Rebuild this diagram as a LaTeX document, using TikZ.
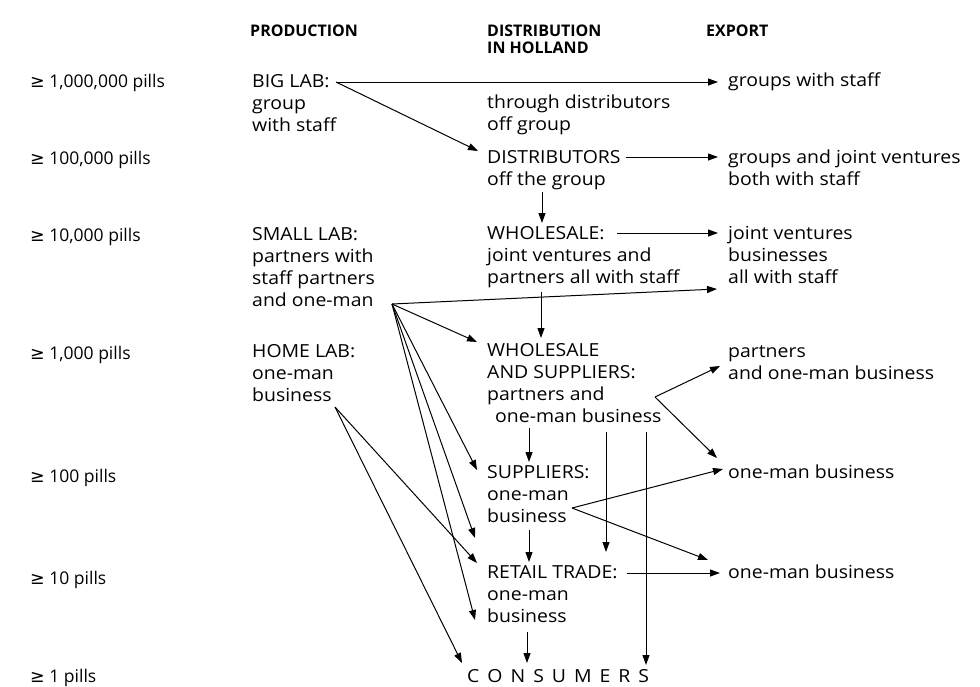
\documentclass[tikz,border=0pt]{standalone}
\usepackage{fontspec}
\setmainfont{Open Sans}[FakeStretch=1.08]
\newfontfamily\lblfont{Open Sans}
\newfontfamily\symf{DejaVu Sans}
\usetikzlibrary{arrows.meta}
\begin{document}
\begin{tikzpicture}[x=1pt,y=-1pt,
  txt/.style={anchor=base west, inner sep=0pt, align=left, font=\fontsize{18}{22}\selectfont},
  lvl/.style={anchor=base west, inner sep=0pt, font=\lblfont\fontsize{17.5}{22}\selectfont},
  hdr/.style={anchor=base west, inner sep=0pt, align=left, font=\lblfont\bfseries\fontsize{16}{17}\selectfont},
  arr/.style={-{Triangle[length=10pt,width=7pt]}, line width=1pt}]
\useasboundingbox[fill=white] (0,0) rectangle (980,686);
% headers (anchor = baseline of last line)
\node[hdr] (h1) at (250,36) {PRODUCTION};
\node[hdr] (h2) at (487,53) {DISTRIBUTION\\IN HOLLAND};
\node[hdr] (h3) at (706,36) {EXPORT};
% levels
\node[lvl] (l1) at (30,87) {{\symf ≥} 1,000,000 pills};
\node[lvl] (l2) at (30,164) {{\symf ≥} 100,000 pills};
\node[lvl] (l3) at (30,241) {{\symf ≥} 10,000 pills};
\node[lvl] (l4) at (30,359) {{\symf ≥} 1,000 pills};
\node[lvl] (l5) at (30,482) {{\symf ≥} 100 pills};
\node[lvl] (l6) at (30,584) {{\symf ≥} 10 pills};
\node[lvl] (l7) at (30,682) {{\symf ≥} 1 pills};
% production
\node[txt] (big) at (252,131) {BIG LAB:\\group\\with staff};
\node[txt] (small) at (252,306) {SMALL LAB:\\partners with\\staff partners\\and one-man};
\node[txt] (home) at (252,401) {HOME LAB:\\one-man\\business};
% distribution
\node[txt] (thru) at (487,130) {through distributors\\off group};
\node[txt] (dist) at (487,185) {DISTRIBUTORS\\off the group};
\node[txt] (whole) at (487,283) {WHOLESALE:\\joint ventures and\\partners all with staff};
\node[txt] (wss) at (487,422) {WHOLESALE\\AND SUPPLIERS:\\partners and\\\hspace{8pt}one-man business};
\node[txt] (supp) at (487,522) {SUPPLIERS:\\one-man\\business};
\node[txt] (retail) at (487,622) {RETAIL TRADE:\\one-man\\business};
\node[txt] (cons) at (467,682) {C\hspace{8pt}O\hspace{8pt}N\hspace{8pt}S\hspace{8pt}U\hspace{8pt}M\hspace{8pt}E\hspace{8pt}R\hspace{8pt}S};
% export
\node[txt] (e1) at (728,86) {groups with staff};
\node[txt] (e2) at (728,185) {groups and joint ventures\\both with staff};
\node[txt] (e3) at (728,283) {joint ventures\\businesses\\all with staff};
\node[txt] (e4) at (728,379) {partners\\and one-man business};
\node[txt] (e5) at (728,478) {one-man business};
\node[txt] (e6) at (728,578) {one-man business};
% connector points
\coordinate (bigO) at (336,82);
\coordinate (smallO) at (392,304);
\coordinate (homeO) at (335,407);
\coordinate (fork) at (655,397);
\coordinate (suppO) at (572,508);
% connectors
\draw[arr] (bigO) -- (718,82);
\draw[arr] (bigO) -- (478,151);
\draw[arr] (626,157) -- (718,157);
\draw[arr] (542,192) -- (542,223);
\draw[arr] (617,233) -- (718,233);
\draw[arr] (541,292) -- (541,338);
\draw[arr] (smallO) -- (717,289);
\draw[arr] (smallO) -- (477,342);
\draw[arr] (smallO) -- (477,470);
\draw[arr] (smallO) -- (475,538);
\draw[arr] (smallO) -- (475,620);
\draw[arr] (fork) -- (720,366);
\draw[arr] (fork) -- (717,458);
\draw[arr] (529,428) -- (529,462);
\draw[arr] (606,432) -- (606,552);
\draw[arr] (646,432) -- (646,665);
\draw[arr] (suppO) -- (723,469);
\draw[arr] (suppO) -- (708,560);
\draw[arr] (529,530) -- (529,562);
\draw[arr] (627,573) -- (720,573);
\draw[arr] (527,632) -- (527,663);
\draw[arr] (homeO) -- (477,563);
\draw[arr] (homeO) -- (462,663);
\end{tikzpicture}
\end{document}
